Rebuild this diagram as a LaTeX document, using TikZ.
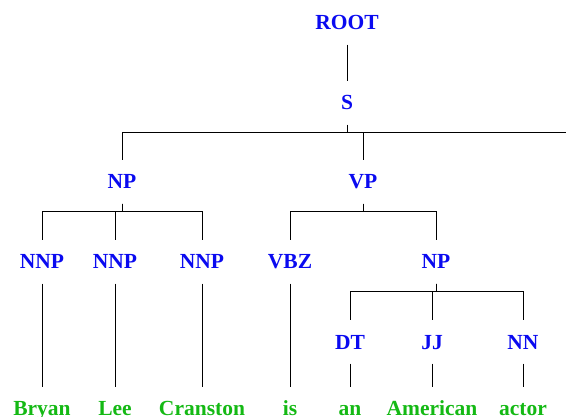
\documentclass[tikz,border=0pt]{standalone}
\usepackage{fontspec}
\setmainfont{Liberation Serif}
\newfontfamily\treefont{Liberation Serif}
\definecolor{tagblue}{RGB}{10,10,240}
\definecolor{wordgreen}{RGB}{20,185,20}
\begin{document}
\begin{tikzpicture}[
    x=1pt, y=1pt,
    tag/.style={inner sep=0pt, minimum height=43pt, text height=14pt, text depth=0pt, font=\treefont\fontsize{21.5}{25}\selectfont\bfseries, text=tagblue},
    word/.style={tag, text=wordgreen},
    edge/.style={draw=black, line width=0.8pt}
]
\useasboundingbox (0,0) rectangle (566,-417);

% Nichtterminale
\node[tag] (root) at (347,-23) {ROOT};
\node[tag] (s) at (347,-103) {S};
\node[tag] (np) at (122,-182) {NP};
\node[tag] (vp) at (363,-182) {VP};
\node[tag] (nnp1) at (42,-262) {NNP};
\node[tag] (nnp2) at (115,-262) {NNP};
\node[tag] (nnp3) at (202,-262) {NNP};
\node[tag] (vbz) at (290,-262) {VBZ};
\node[tag] (np2) at (436,-262) {NP};
\node[tag] (dt) at (350,-342) {DT};
\node[tag] (jj) at (432,-342) {JJ};
\node[tag] (nn) at (523,-342) {NN};

% Woerter
\node[word] (bryan) at (42,-409) {Bryan};
\node[word] (lee) at (115,-409) {Lee};
\node[word] (cranston) at (202,-409) {Cranston};
\node[word] (is) at (290,-409) {is};
\node[word] (an) at (350,-409) {an};
\node[word] (american) at (432,-409) {American};
\node[word] (actor) at (523,-409) {actor};

% Kanten
\coordinate (sright) at (566,-132);
\draw[edge] (root.south) -- (s.north);
\draw[edge] (s.south) -- ++(0,-7.5) coordinate (sbar) -| (np.north);
\draw[edge] (sbar) -| (vp.north);
\draw[edge] (sbar) -- (sbar -| sright);

\draw[edge] (np.south) -- ++(0,-8) -| (nnp1.north);
\draw[edge] (np.south) -- ++(0,-8) -| (nnp2.north);
\draw[edge] (np.south) -- ++(0,-8) -| (nnp3.north);

\draw[edge] (vp.south) -- ++(0,-8) -| (vbz.north);
\draw[edge] (vp.south) -- ++(0,-8) -| (np2.north);

\draw[edge] (np2.south) -- ++(0,-8) -| (dt.north);
\draw[edge] (np2.south) -- ++(0,-8) -| (jj.north);
\draw[edge] (np2.south) -- ++(0,-8) -| (nn.north);

\draw[edge] (nnp1.south) -- (bryan.north);
\draw[edge] (nnp2.south) -- (lee.north);
\draw[edge] (nnp3.south) -- (cranston.north);
\draw[edge] (vbz.south) -- (is.north);
\draw[edge] (dt.south) -- (an.north);
\draw[edge] (jj.south) -- (american.north);
\draw[edge] (nn.south) -- (actor.north);

\end{tikzpicture}
\end{document}
